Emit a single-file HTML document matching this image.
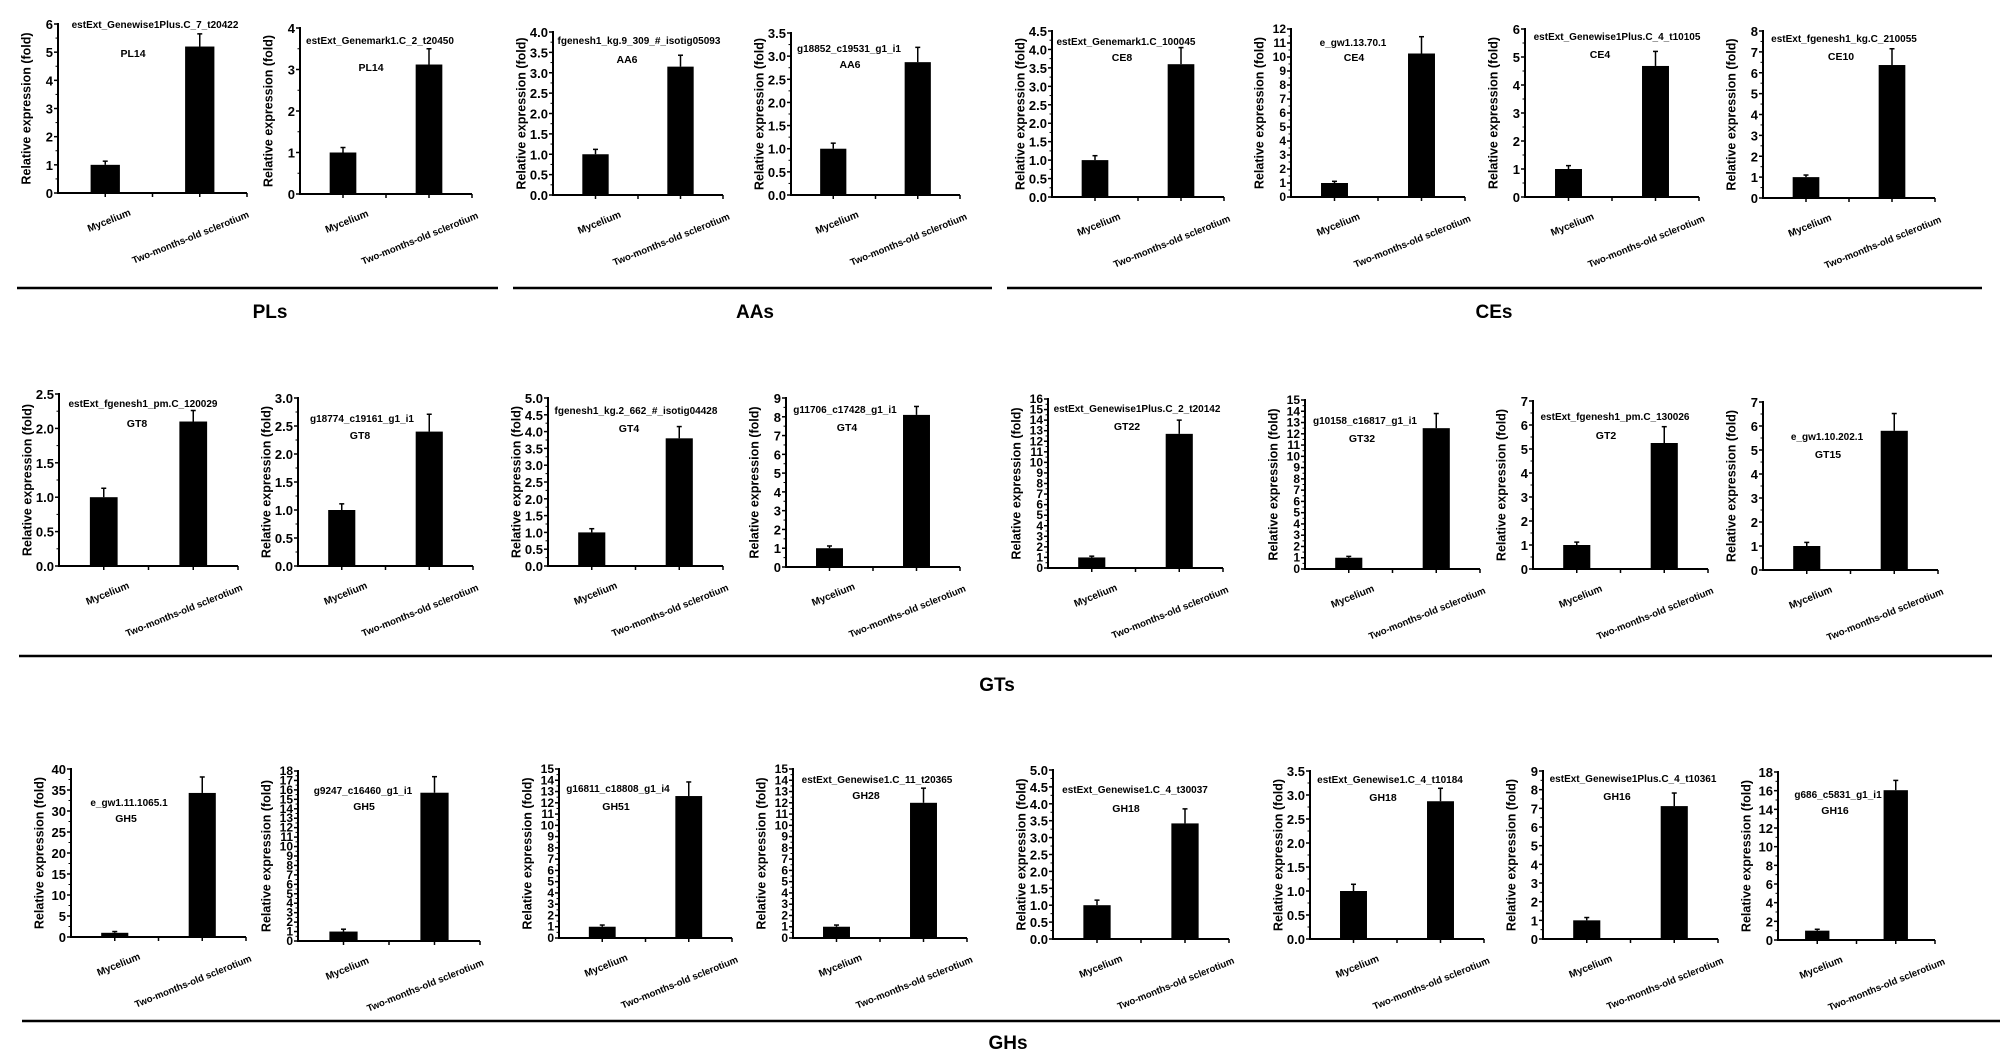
<!DOCTYPE html>
<html><head><meta charset="utf-8"><style>
html,body{margin:0;padding:0;background:#fff;}
svg{display:block;font-family:"Liberation Sans",Arial,sans-serif;font-weight:bold;}
</style></head><body>
<svg id="fig" width="2000" height="1056" viewBox="0 0 2000 1056" xmlns="http://www.w3.org/2000/svg"></svg>
<script>
// ---- data ----
const categories = ["Mycelium", "Two-months-old sclerotium"];
const geneNames = ["estExt_Genewise1Plus.C_7_t20422","estExt_Genemark1.C_2_t20450","fgenesh1_kg.9_309_#_isotig05093","g18852_c19531_g1_i1","estExt_Genemark1.C_100045","e_gw1.13.70.1","estExt_Genewise1Plus.C_4_t10105","estExt_fgenesh1_kg.C_210055",
"estExt_fgenesh1_pm.C_120029","g18774_c19161_g1_i1","fgenesh1_kg.2_662_#_isotig04428","g11706_c17428_g1_i1","estExt_Genewise1Plus.C_2_t20142","g10158_c16817_g1_i1","estExt_fgenesh1_pm.C_130026","e_gw1.10.202.1",
"e_gw1.11.1065.1","g9247_c16460_g1_i1","g16811_c18808_g1_i4","estExt_Genewise1.C_11_t20365","estExt_Genewise1.C_4_t30037","estExt_Genewise1.C_4_t10184","estExt_Genewise1Plus.C_4_t10361","g686_c5831_g1_i1"];
const familyLabels = ["PL14","PL14","AA6","AA6","CE8","CE4","CE4","CE10","GT8","GT8","GT4","GT4","GT22","GT32","GT2","GT15","GH5","GH5","GH51","GH28","GH18","GH18","GH16","GH16"];
const myceliumValues = [1,1,1,1,1,1,1,1, 1,1,1,1,1,1,1,1, 1,1,1,1,1,1,1,1];
const myceliumErrors = [0.13,0.12,0.12,0.12,0.12,0.12,0.12,0.1, 0.13,0.11,0.11,0.12,0.12,0.12,0.12,0.15, 0.3,0.25,0.15,0.15,0.15,0.14,0.15,0.15];
const sclerotiumValues = [5.2,3.12,3.15,2.87,3.6,10.25,4.68,6.37, 2.1,2.4,3.8,8.1,12.7,12.5,5.25,5.8, 34.3,15.7,12.6,12.0,3.42,2.87,7.12,16.05];
const sclerotiumErrors = [0.45,0.38,0.28,0.32,0.45,1.2,0.52,0.78, 0.16,0.31,0.35,0.45,1.3,1.3,0.68,0.72, 3.8,1.7,1.25,1.3,0.43,0.27,0.7,1.05];
const yMaxima = [6,4,4,3.5,4.5,12,6,8, 2.5,3,5,9,16,15,7,7, 40,18,15,15,5,3.5,9,18];
const yTickSteps = [1,1,0.5,0.5,0.5,1,1,1, 0.5,0.5,0.5,1,1,1,1,1, 5,1,1,1,0.5,0.5,1,2];
const sectionLabels = ["PLs","AAs","CEs","GTs","GHs"];

// ---- layout (pixel geometry, not data) ----
const panelAxisX = [58,300,553,791,1052,1291,1525,1763, 59,298,548,786,1048,1305,1533,1763, 71,298,559,793,1053,1310,1543,1778];
const panelAxisEnd = [247,472,723,960,1224,1465,1699,1935, 238,473,723,960,1223,1480,1708,1938, 246,480,732,967,1229,1484,1718,1935];
const panelTopY = [24,28,32,33,31,29,29,31, 394,398,398,398,399,400,401,402, 769,771,769,769,770,771,771,772];
const panelZeroY = [193,194,195,195,197,197,197,198, 566,566,566,567,568,569,569,570, 937,941,938,938,939,939,939,940];
const titlePos = [[155,24],[380,40],[639,40],[849,48],[1126,41],[1353,42],[1617,36],[1844,38],
[143,403],[362,418],[636,410],[845,409],[1137,408],[1365,420],[1615,416],[1827,436],
[129,802],[363,790],[618,788],[877,779],[1135,789],[1390,779],[1633,778],[1838,794]];
const famPos = [[133,53],[371,67],[627,59],[850,64],[1122,57],[1354,57],[1600,54],[1841,56],
[137,423],[360,435],[629,428],[847,427],[1127,426],[1362,438],[1606,435],[1828,454],
[126,818],[364,806],[616,806],[866,795],[1126,808],[1383,797],[1617,796],[1835,810]];
const sectionLines = [[17,498,288],[513,992,288],[1007,1982,288],[19,1992,656],[22,2000,1021]];
const sectionTextPos = [[270,318],[755,318],[1494,318],[997,691],[1008,1049]];

const NS = "http://www.w3.org/2000/svg";
const svg = document.getElementById('fig');
function mk(tag, attrs, parent){
  const e = document.createElementNS(NS, tag);
  for (const k in attrs) e.setAttribute(k, attrs[k]);
  (parent||svg).appendChild(e);
  return e;
}
function fmt(v, step){ return step < 1 ? v.toFixed(1) : String(Math.round(v)); }

for (let i = 0; i < geneNames.length; i++) {
  const ax = panelAxisX[i], ae = panelAxisEnd[i], top = panelTopY[i], zero = panelZeroY[i];
  const ymax = yMaxima[i], step = yTickSteps[i];
  const yScale = v => zero - (v / ymax) * (zero - top);
  const w = ae - ax;
  const xScale = k => ax + w * (0.25 + 0.5 * k);
  const bw = w * 0.155;
  const g = mk('g', {});
  
  

  // y ticks
  const nTicks = Math.round(ymax / step);
  const denseSmall = nTicks > 10;
  for (let t = 0; t <= nTicks; t++) {
    const v = t * step, y = yScale(v);
    mk('line', {x1: ax-4, x2: ax, y1: y, y2: y, stroke:'#000','stroke-width':1.5}, g);
    if (t < nTicks) {
      const ym = yScale(v + step/2);
      mk('line', {x1: ax-2.5, x2: ax, y1: ym, y2: ym, stroke:'#000','stroke-width':1}, g);
    }
    const lab = mk('text', {x: ax-5, y: y + (denseSmall ? 4 : 5), 'text-anchor':'end', 'font-size': denseSmall ? 12 : 13}, g);
    
    
    lab.textContent = fmt(v, step);
  }
  // axes
  const yAxis = mk('line', {x1: ax, x2: ax, y1: top-1, y2: zero+1, stroke:'#000','stroke-width':2}, g);
  
  
  const xAxis = mk('line', {x1: ax-1, x2: ae, y1: zero, y2: zero, stroke:'#000','stroke-width':2}, g);
  
  
  [0, 0.5, 1, 1.5].forEach(k => {
    const xx = k === 1.5 ? ae : ax + w * (k === 0.5 ? 0.25 : k === 1 ? 0.75 : 0.5);
    mk('line', {x1: xx, x2: xx, y1: zero, y2: zero+4, stroke:'#000','stroke-width':1.5}, g);
  });

  // y title
  const midY = (top + zero) / 2;
  const yt = mk('text', {x: ax-31, y: midY, transform: `rotate(-90 ${ax-31} ${midY})`, 'text-anchor':'middle', 'font-size': 12.5, 'dominant-baseline':'middle'}, g);
  
  
  yt.textContent = 'Relative expression (fold)';

  // bars
  const vals = [myceliumValues[i], sclerotiumValues[i]];
  const errs = [myceliumErrors[i], sclerotiumErrors[i]];
  for (let k = 0; k < 2; k++) {
    const cx = xScale(k), yv = yScale(vals[k]), ye = yScale(vals[k] + errs[k]);
    const bar = mk('rect', {x: cx - bw/2, y: yv, width: bw, height: zero - yv, fill:'#000'}, g);
    
    
    const eb = mk('line', {x1: cx, x2: cx, y1: ye, y2: yv, stroke:'#000','stroke-width':1.5}, g);
    
    
    mk('line', {x1: cx-2.5, x2: cx+2.5, y1: ye, y2: ye, stroke:'#000','stroke-width':1.5}, g);
    const lx = k === 0 ? cx + 4 : cx - 9, ly = k === 0 ? zero + 28 : zero + 45;
    const xl = mk('text', {x: lx, y: ly, transform: `rotate(-22 ${lx} ${ly})`, 'text-anchor':'middle', 'font-size': k===0 ? 10 : 9.6, 'dominant-baseline':'middle'}, g);
    
    
    xl.textContent = categories[k];
  }
  // titles
  const tt = mk('text', {x: titlePos[i][0], y: titlePos[i][1] + 4, 'text-anchor':'middle', 'font-size': 10}, g);
  
  
  tt.textContent = geneNames[i];
  const ft = mk('text', {x: famPos[i][0], y: famPos[i][1] + 4, 'text-anchor':'middle', 'font-size': 10.5}, g);
  
  
  ft.textContent = familyLabels[i];
}

// section dividers
for (let s = 0; s < sectionLines.length; s++) {
  const L = sectionLines[s];
  const ln = mk('line', {x1: L[0], x2: L[1], y1: L[2], y2: L[2], stroke:'#000','stroke-width':2.5});
  
  
  const t = mk('text', {x: sectionTextPos[s][0], y: sectionTextPos[s][1], 'text-anchor':'middle', 'font-size': 19});
  
  
  t.textContent = sectionLabels[s];
}
</script>
</body></html>
